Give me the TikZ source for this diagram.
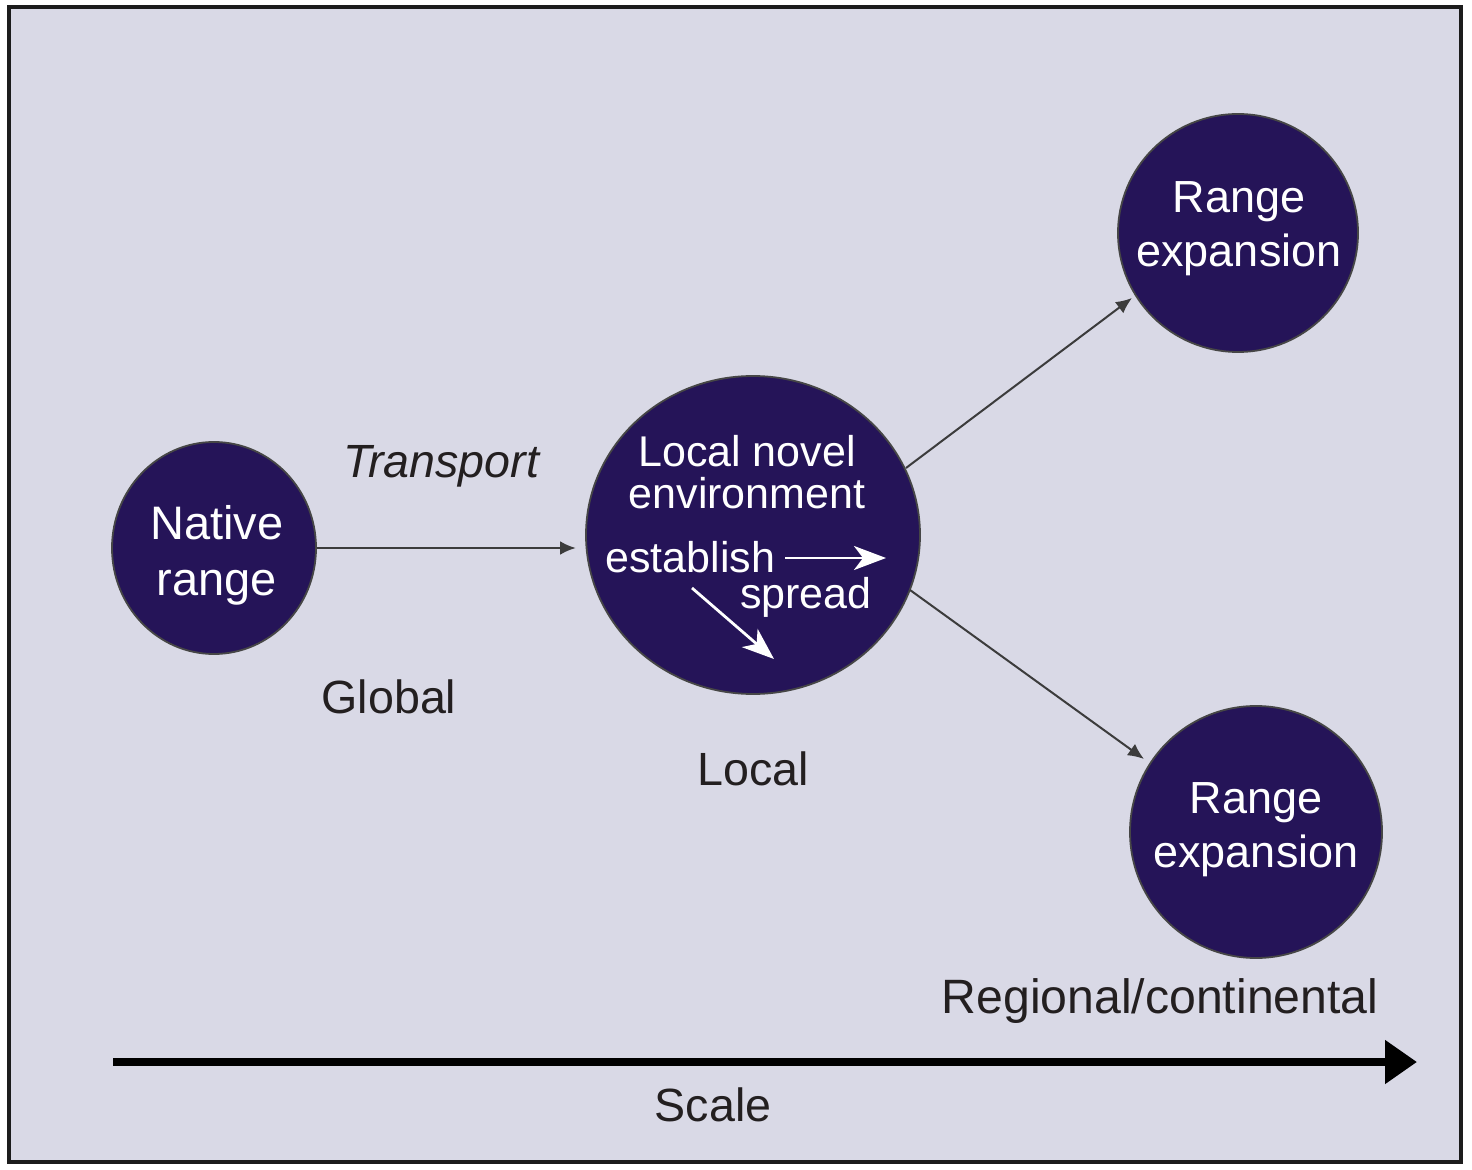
\documentclass[tikz,border=0pt]{standalone}
\usepackage{fontspec}
\setmainfont{Liberation Sans}
\usetikzlibrary{arrows.meta,shapes.geometric}
\definecolor{bgfill}{RGB}{217,217,230}
\definecolor{framec}{RGB}{28,28,28}
\definecolor{disc}{RGB}{37,20,88}
\definecolor{txt}{RGB}{35,31,32}
\definecolor{conn}{RGB}{60,60,60}
\tikzset{
  disk/.style={ellipse, fill=disc, draw=gray!55!black, line width=0.9pt, inner sep=0pt},
  intext/.style={text=white, font=\fontsize{22.5}{27}\selectfont, align=center, inner sep=0pt},
  smalltext/.style={text=white, font=\fontsize{21.5}{21}\selectfont, align=center, inner sep=0pt},
  lab/.style={text=txt, font=\fontsize{23.3}{28}\selectfont, inner sep=0pt},
  conline/.style={draw=conn, line width=1pt, -{Latex[length=8pt,width=7pt]}},
  whitearrow/.style={draw=white, line width=1.4pt, -{Stealth[length=16pt,width=12pt,inset=4.5pt]}},
}
\begin{document}
\begin{tikzpicture}[x=0.5pt,y=-0.5pt]
\useasboundingbox (0,0) rectangle (1472,1170);
\fill[white] (0,0) rectangle (1472,1170);
\draw[framec, fill=bgfill, line width=1.6pt] (9,7) rectangle (1461,1162);

% circles
\node[disk, minimum width=204*0.5pt, minimum height=212*0.5pt] (native) at (214,548) {};
\node[disk, minimum width=334*0.5pt, minimum height=318*0.5pt] (local) at (753,535) {};
\node[disk, minimum width=240*0.5pt, minimum height=238*0.5pt] (rtop) at (1238,233) {};
\node[disk, minimum width=252*0.5pt, minimum height=252*0.5pt] (rbot) at (1256,832) {};

% circle texts
\node[intext, font=\fontsize{23.5}{28}\selectfont] (nativet) at (217,555) {Native\\range};
\node[smalltext] (localt) at (747,472) {Local novel\\environment};
\node[smalltext, anchor=west] (estab) at (605,557) {establish};
\node[smalltext, anchor=east] (spread) at (872,597) {spread};
\node[intext] (rtopt) at (1239,229) {Range\\expansion};
\node[intext] (rbott) at (1256,830) {Range\\expansion};

% inner white arrows
\coordinate (ea1) at (785,558);
\coordinate (ea2) at (886,558);
\coordinate (da1) at (692,588);
\coordinate (da2) at (774,659);
\draw[whitearrow] (ea1) -- (ea2);
\draw[whitearrow] (da1) -- (da2);

% connectors
\coordinate (t1) at (576,548);
\draw[conline, line width=1.4pt] (native.east) -- (t1);
\coordinate (up1) at (906,468);
\coordinate (up2) at (1132,298);
\draw[conline] (up1) -- (up2);
\coordinate (dn1) at (910,590);
\coordinate (dn2) at (1144,759);
\draw[conline] (dn1) -- (dn2);

% labels
\node[lab, font=\fontsize{23.3}{28}\selectfont\itshape] (transport) at (441,466) {Transport};
\node[lab] (global) at (389,697) {Global};
\node[lab] (locall) at (753,769) {Local};
\node[lab, font=\fontsize{24.1}{28}\selectfont] (regional) at (1160,1001) {Regional/continental};
\node[lab] (scale) at (713,1105) {Scale};

% scale arrow
\coordinate (s1) at (113,1062);
\coordinate (s2) at (1417,1062);
\draw[black, line width=4pt, -{Triangle[length=16pt,width=21pt]}] (s1) -- (s2);
\end{tikzpicture}
\end{document}
